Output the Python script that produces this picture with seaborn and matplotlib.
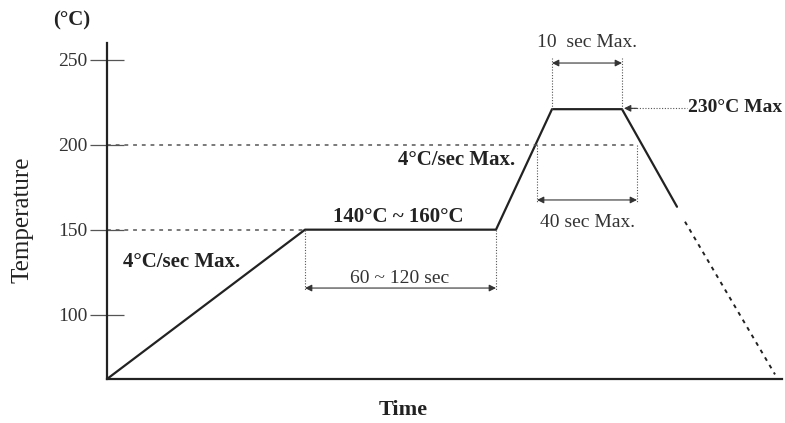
import matplotlib
matplotlib.use("Agg")
import matplotlib.pyplot as plt
import seaborn as sns
import pandas as pd

# ---- data (schematic reflow profile) ----
profile_time = [0, 198, 389, 445, 515, 570]
profile_temp = [62, 150, 150, 221, 221, 163.5]
cool_time = [578, 668]
cool_temp = [154.7, 64.7]
y_ticks = [100, 150, 200, 250]
y_tick_labels = ["100", "150", "200", "250"]

sns.set_style("white")
plt.rcParams["font.family"] = ["Liberation Serif", "DejaVu Serif"]

W, H = 785, 423
fig = plt.figure(figsize=(W / 100, H / 100), dpi=100)
left, right, top, bottom = 107, 782, 43, 379
ax = fig.add_axes([left / W, (H - bottom) / H, (right - left) / W, (bottom - top) / H])
ax.set_xlim(0, 675)
ax.set_ylim(62, 260)

ink = "#222222"
grey = "#555555"

df = pd.DataFrame({"time": profile_time, "temp": profile_temp})
sns.lineplot(data=df, x="time", y="temp", ax=ax, color=ink, lw=1.6, sort=False)
dfc = pd.DataFrame({"time": cool_time, "temp": cool_temp})
sns.lineplot(data=dfc, x="time", y="temp", ax=ax, color=ink, lw=1.4,
             dashes=False, sort=False, linestyle=(0, (2, 2.5)))

# spines / ticks
for s in ["top", "right"]:
    ax.spines[s].set_visible(False)
for s in ["left", "bottom"]:
    ax.spines[s].set_linewidth(1.6)
    ax.spines[s].set_color(ink)
ax.set_xticks([])
ax.set_yticks(y_ticks)
ax.set_yticklabels(y_tick_labels, fontsize=14, color="#333333")
ax.tick_params(axis="y", direction="inout", length=25, width=0.9, color=grey, pad=1.5, left=True)
ax.set_xlabel("")
ax.set_ylabel("")

# guide dashed lines
dash = (0, (2.5, 3.2))
ax.plot([0, 530], [200, 200], color=grey, lw=1.1, linestyle=dash, clip_on=False)
ax.plot([0, 198], [150, 150], color=grey, lw=1.1, linestyle=dash, clip_on=False)

dot = (0, (1, 1.5))
# 60~120 sec
for t in [198, 389]:
    ax.plot([t, t], [150, 114], color=grey, lw=0.8, linestyle=dot)
ax.annotate("", xy=(198, 115.6), xytext=(389, 115.6),
            arrowprops=dict(arrowstyle="<|-|>", color="#333333", lw=0.8,
                            mutation_scale=10, shrinkA=0, shrinkB=0))
# 10 sec Max
for t in [445, 515]:
    ax.plot([t, t], [221, 251], color=grey, lw=0.8, linestyle=dot, clip_on=False)
ax.annotate("", xy=(445, 248.2), xytext=(515, 248.2),
            arrowprops=dict(arrowstyle="<|-|>", color="#333333", lw=0.8,
                            mutation_scale=10, shrinkA=0, shrinkB=0))
# 40 sec Max
for t in [430, 530]:
    ax.plot([t, t], [200, 166.5], color=grey, lw=0.8, linestyle=dot)
ax.annotate("", xy=(430, 167.5), xytext=(530, 167.5),
            arrowprops=dict(arrowstyle="<|-|>", color="#333333", lw=0.8,
                            mutation_scale=10, shrinkA=0, shrinkB=0))
# 230C Max pointer
ax.plot([524, 580], [221.5, 221.5], color=grey, lw=0.8, linestyle=dot, clip_on=False)
ax.annotate("", xy=(517, 221.5), xytext=(530, 221.5),
            arrowprops=dict(arrowstyle="-|>", color="#333333", lw=0.8,
                            mutation_scale=10, shrinkA=0, shrinkB=0))

# texts
ax.text(-35, 273.5, "(°C)", fontsize=15, fontweight="bold", ha="center", va="center", color=ink)
ax.text(-85, 156, "Temperature", fontsize=18, rotation=90, ha="center", va="center", color=ink)
ax.text(296, 43.7, "Time", fontsize=16, fontweight="bold", ha="center", va="center", color=ink)
ax.text(75, 131, "4°C/sec Max.", fontsize=15, fontweight="bold", ha="center", va="center", color=ink)
ax.text(408, 191, "4°C/sec Max.", fontsize=15, fontweight="bold", ha="right", va="center", color=ink)
ax.text(291, 157.5, "140°C ~ 160°C", fontsize=15, fontweight="bold", ha="center", va="center", color=ink)
ax.text(293, 121.5, "60 ~ 120 sec", fontsize=14, ha="center", va="center", color="#333333")
ax.text(480, 260, "10  sec Max.", fontsize=14, ha="center", va="center", color="#333333")
ax.text(481, 154.5, "40 sec Max.", fontsize=14, ha="center", va="center", color="#333333")
ax.text(581, 222, "230°C Max", fontsize=14, fontweight="bold", ha="left", va="center", color=ink)

fig.savefig("out.png", dpi=100)
